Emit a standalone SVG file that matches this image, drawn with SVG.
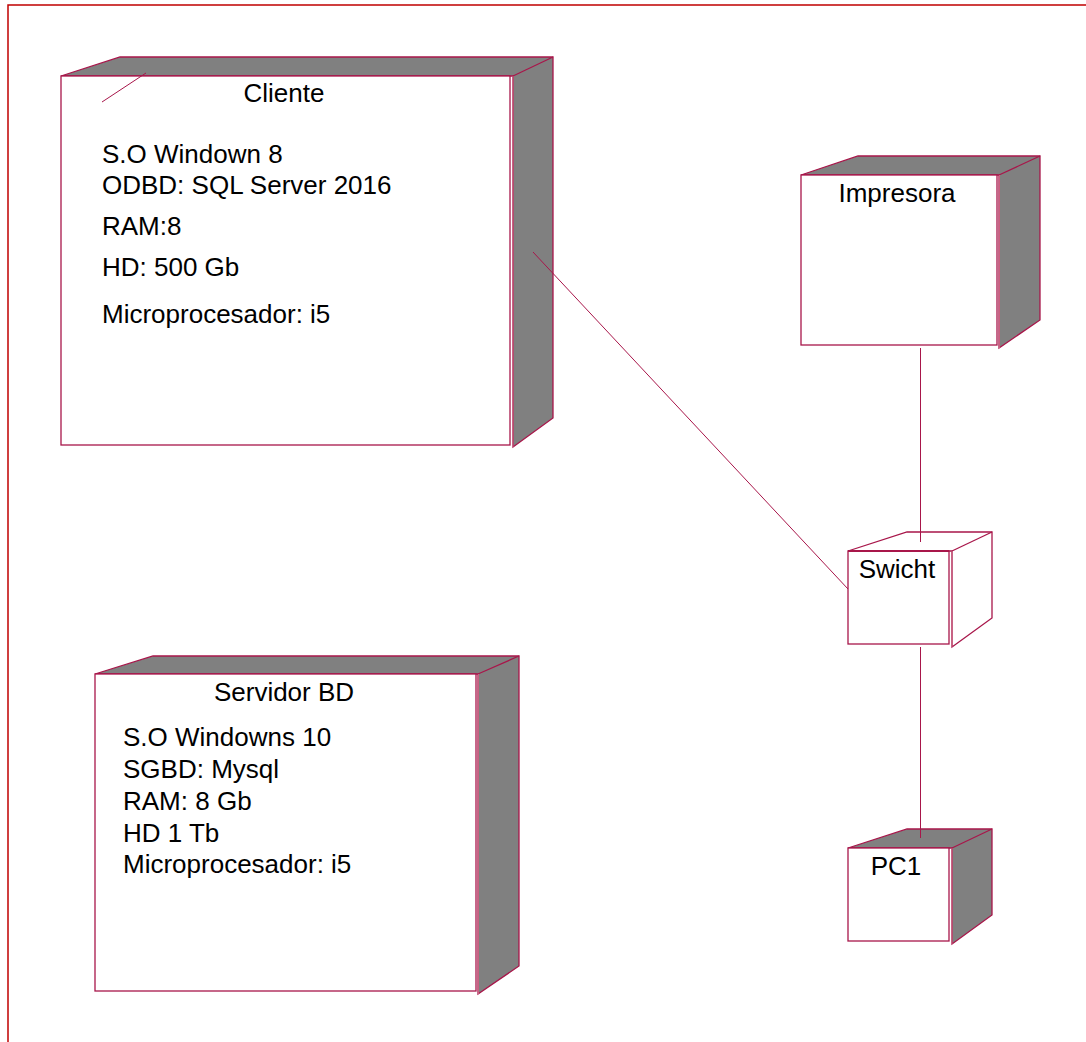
<svg xmlns="http://www.w3.org/2000/svg" width="1086" height="1042" viewBox="0 0 1086 1042">
<style>
.face{fill:#ffffff;stroke:#a8164a;stroke-width:1.3}
.side{fill:#808080;stroke:#a8164a;stroke-width:1.3;stroke-linejoin:miter}
.open{fill:none;stroke:#a8164a;stroke-width:1.3}
.inner{stroke:#c86080;stroke-width:1}
.conn{stroke:#a8164a;stroke-width:1;fill:none}
text{font-family:"Liberation Sans",Arial,sans-serif;font-size:26px;fill:#000}
.c{text-anchor:middle}
</style>
<rect x="8" y="5" width="1100" height="1060" fill="#ffffff" stroke="#c00000" stroke-width="1.5"/>
<g id="cliente">
<polygon class="side" points="61,76 120,57 553,57 553,418 513,447 513,76"/>
<line class="open" x1="513" y1="76" x2="553" y2="57"/>
<rect class="face" x="61" y="76" width="449" height="369"/>
<line class="inner" x1="513" y1="76" x2="513" y2="447"/>
<line class="conn" x1="102" y1="102" x2="146" y2="73"/>
<text class="c" x="284" y="102">Cliente</text>
<text x="102" y="163">S.O Windown 8</text>
<text x="102" y="194">ODBD: SQL Server 2016</text>
<text x="102" y="235">RAM:8</text>
<text x="102" y="276">HD: 500 Gb</text>
<text x="102" y="323">Microprocesador: i5</text>
</g>
<g id="impresora">
<polygon class="side" points="801,175 858,156 1040,156 1040,320 999,348 999,175"/>
<line class="open" x1="999" y1="175" x2="1040" y2="156"/>
<rect class="face" x="801" y="175" width="196" height="170"/>
<line class="inner" x1="999.5" y1="175" x2="999.5" y2="348"/>
<text class="c" x="897" y="202">Impresora</text>
</g>
<g id="swicht">
<polygon class="open" points="848,551 907,532 992,532 992,618 952,647 952,551" fill="#ffffff"/>
<line class="open" x1="952" y1="551" x2="992" y2="532"/>
<rect class="face" x="848" y="551" width="101" height="93"/>
<line x1="848" y1="551" x2="949" y2="551" stroke="#a8164a" stroke-width="2"/>
<line class="inner" x1="952" y1="551" x2="952" y2="647"/>
<text class="c" x="897" y="578">Swicht</text>
</g>
<g id="pc1">
<polygon class="side" points="848,848 907,829 992,829 992,915 952,944 952,848"/>
<line class="open" x1="952" y1="848" x2="992" y2="829"/>
<rect class="face" x="848" y="848" width="101" height="93"/>
<line class="inner" x1="952" y1="848" x2="952" y2="944"/>
<text class="c" x="896" y="875">PC1</text>
</g>
<g id="servidor">
<polygon class="side" points="95,674 153,656 519,656 519,966 478,994 478,674"/>
<line class="open" x1="478" y1="674" x2="519" y2="656"/>
<rect class="face" x="95" y="674" width="381" height="317"/>
<line class="inner" x1="478.5" y1="674" x2="478.5" y2="994"/>
<text class="c" x="284" y="701">Servidor BD</text>
<text x="123" y="746">S.O Windowns 10</text>
<text x="123" y="778">SGBD: Mysql</text>
<text x="123" y="810">RAM: 8 Gb</text>
<text x="123" y="842">HD 1 Tb</text>
<text x="123" y="873">Microprocesador: i5</text>
</g>
<g id="connectors">
<line class="conn" x1="533" y1="252" x2="848" y2="589"/>
<line class="conn" x1="920.5" y1="348" x2="920.5" y2="542"/>
<line class="conn" x1="920.5" y1="647" x2="920.5" y2="838"/>
</g>
</svg>
